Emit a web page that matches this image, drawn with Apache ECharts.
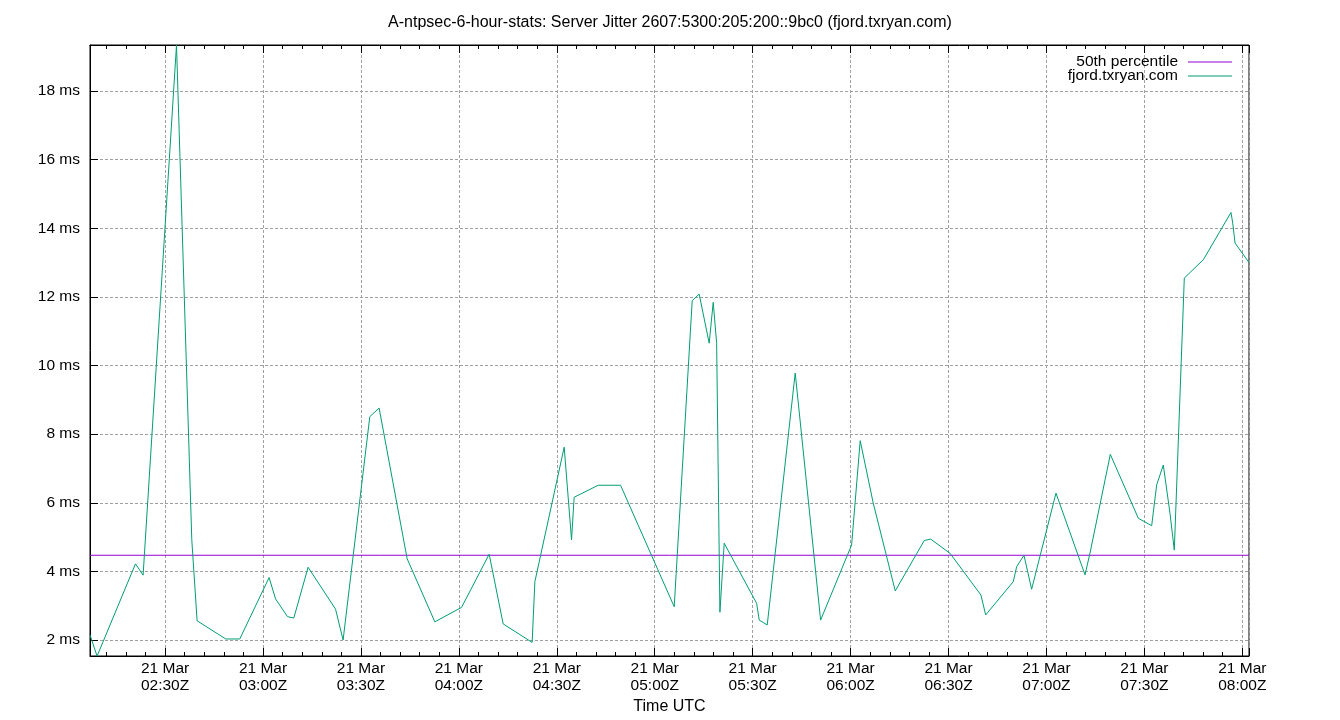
<!DOCTYPE html>
<html>
<head>
<meta charset="utf-8">
<script src="https://cdn.jsdelivr.net/npm/echarts@6/dist/echarts.min.js"></script>
<style>
html,body{margin:0;padding:0;background:#fff;}
#chart{width:1340px;height:720px;}
</style>
</head>
<body>
<div id="chart"></div>
<script>
// ---- data ----
const chartTitle = "A-ntpsec-6-hour-stats: Server Jitter 2607:5300:205:200::9bc0 (fjord.txryan.com)";
const xAxisTitle = "Time UTC";
const dateLabel = "21 Mar";
const seriesNames = ["50th percentile", "fjord.txryan.com"];
const medianValue = 4.47;
const times = [
  "02:07:00","02:09:10","02:20:56","02:23:16","02:33:30","02:38:11","02:39:49","02:48:36","02:52:53",
  "03:01:52","03:03:50","03:07:30","03:09:26","03:13:49","03:22:13","03:24:32","03:32:43","03:35:34",
  "03:44:09","03:52:38","04:00:49","04:09:17","04:13:34","04:22:27","04:23:17","04:32:16","04:34:31",
  "04:35:19","04:42:41","04:49:32","05:05:58","05:11:29","05:13:37","05:16:41","05:17:55","05:18:58",
  "05:19:58","05:21:17","05:31:13","05:32:01","05:34:28","05:43:02","05:50:49","06:00:19","06:02:57",
  "06:06:56","06:13:41","06:22:34","06:24:32","06:30:26","06:39:56","06:41:23","06:49:50","06:50:53",
  "06:53:07","06:55:28","07:02:55","07:11:49","07:13:20","07:19:34","07:28:08","07:32:14","07:33:46",
  "07:35:48","07:37:51","07:39:10","07:42:14","07:48:03","07:56:32","07:57:04","07:57:46","08:02:03"
];
const jitterMs = [
  2.15,1.53,4.22,3.89,19.34,4.92,2.56,2.03,2.03,
  3.82,3.20,2.68,2.64,4.12,2.90,2.00,8.51,8.76,
  4.37,2.53,2.95,4.50,2.47,1.93,3.70,7.62,4.92,
  6.16,6.51,6.51,2.97,11.89,12.08,10.65,11.84,10.65,
  2.81,4.82,3.07,2.58,2.44,9.78,2.58,4.77,7.81,
  5.99,3.43,4.90,4.94,4.53,3.31,2.73,3.70,4.14,
  4.47,3.48,6.28,3.90,4.53,7.41,5.55,5.33,6.52,
  7.10,5.69,4.62,12.55,13.08,14.46,14.15,13.57,13.00
];
const yMin = 1.534, yMax = 19.34;

// ---- build ----
function toMin(s){const p=s.split(':').map(Number);return p[0]*60+p[1]+p[2]/60;}
const xs = times.map(toMin);
const xMin = xs[0], xMax = xs[xs.length-1];
const dataPts = xs.map((x,i)=>[x, jitterMs[i]]);
const medianPts = [[xMin, medianValue],[xMax, medianValue]];
const FONT = "'Liberation Sans', Arial, sans-serif";
const FS = 15.5;
function pad(n){return (n<10?'0':'')+n;}
function xFmt(v){const h=Math.floor(v/60+1e-6), m=Math.round(v-h*60);return dateLabel+"\n"+pad(h)+":"+pad(m)+"Z";}

const xBase = {
  type:'value', min:xMin, max:xMax, minInterval:30, maxInterval:30, splitNumber:12,
  axisLine:{show:true, onZero:false, lineStyle:{color:'#000', width:1}},
  axisTick:{show:true, inside:true, length:8, lineStyle:{color:'#000'}},
  minorTick:{show:true, splitNumber:5, length:4, lineStyle:{color:'#000'}}
};
const chart = echarts.init(document.getElementById('chart'), null, {renderer:'canvas'});
chart.setOption({
  animation:false,
  backgroundColor:'#fff',
  title:{text:chartTitle, left:'center', top:10,
    textStyle:{fontSize:16, fontWeight:'normal', color:'#000', fontFamily:FONT}},
  legend:{
    data:seriesNames, orient:'vertical', right:103, top:49, align:'right',
    itemGap:-2, itemWidth:44, itemHeight:1, icon:'rect',
    textStyle:{fontSize:FS, color:'#000', fontFamily:FONT, lineHeight:14, padding:[0,5,0,0]}
  },
  grid:{left:90, right:91, top:45, bottom:64, show:true, borderColor:'#000', borderWidth:1, containLabel:false},
  xAxis:[
    Object.assign({}, xBase, {
      position:'bottom',
      axisLabel:{show:true, formatter:xFmt, showMinLabel:false, showMaxLabel:false, margin:4,
        fontSize:FS, lineHeight:17, color:'#000', fontFamily:FONT},
      splitLine:{show:true, lineStyle:{color:'#a0a0a0', width:1, type:[3,2]}},
      name:xAxisTitle, nameLocation:'middle', nameGap:43,
      nameTextStyle:{fontSize:16, color:'#000', fontFamily:FONT}
    }),
    Object.assign({}, xBase, {
      position:'top',
      axisLabel:{show:false},
      splitLine:{show:false}
    })
  ],
  yAxis:[{
    type:'value', min:yMin, max:yMax, minInterval:2, maxInterval:2, splitNumber:9,
    axisLine:{show:true, lineStyle:{color:'#000'}},
    axisTick:{show:true, inside:true, length:8, lineStyle:{color:'#000'}},
    axisLabel:{show:true, formatter:v=>Math.round(v)+' ms', showMinLabel:false, showMaxLabel:false,
      margin:10, fontSize:FS, color:'#000', fontFamily:FONT},
    splitLine:{show:true, lineStyle:{color:'#a0a0a0', width:1, type:[3,2]}}
  }],
  series:[
    {name:seriesNames[0], type:'line', data:medianPts, xAxisIndex:0, showSymbol:false, symbol:'none',
      color:'#9400d3', lineStyle:{width:1, color:'#9400d3'}},
    {name:seriesNames[1], type:'line', data:dataPts, xAxisIndex:0, showSymbol:false, symbol:'none',
      color:'#009e73', lineStyle:{width:1, color:'#009e73'}}
  ]
});
</script>
</body>
</html>
